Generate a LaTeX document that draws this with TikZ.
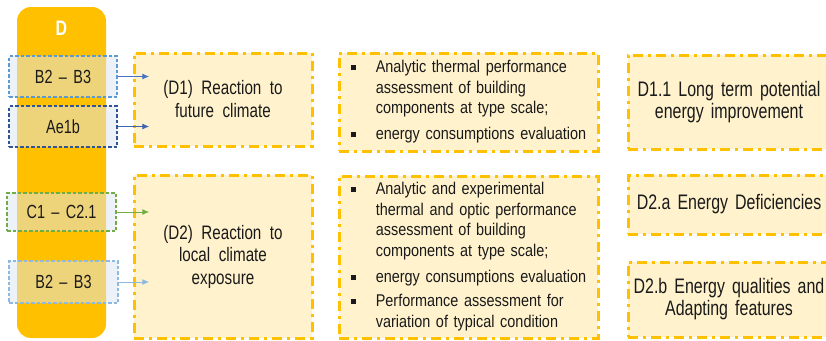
\documentclass[tikz,border=0pt]{standalone}
\usepackage{fontspec}
\setmainfont{Liberation Sans}[FakeStretch=0.85, WordSpace=1.4]
\newfontfamily\rfont{Liberation Sans}[Ligatures=TeX, FakeStretch=0.76, WordSpace=1.6]
\newfontfamily\dfont{Liberation Sans}[Ligatures=TeX, FakeStretch=0.78, WordSpace=2]
\usetikzlibrary{arrows.meta}
\definecolor{colD}{HTML}{FFC000}
\definecolor{boxfill}{HTML}{FFF2CC}
\definecolor{tagfill}{RGB}{220,230,242}
\definecolor{blueA}{HTML}{5B9BD5}
\definecolor{blueB}{HTML}{2F5597}
\definecolor{greenC}{HTML}{70AD47}
\definecolor{blueL}{HTML}{8DB8E2}
\definecolor{arrA}{HTML}{4472C4}
\definecolor{arrB}{HTML}{3C64B4}
\definecolor{txt}{HTML}{1A1A1A}
\newcommand{\fsz}[2]{\fontsize{#1}{#2}\selectfont}
\newcommand{\bul}{\rule[2.5pt]{5pt}{5pt}}
\begin{document}
\begin{tikzpicture}[x=1pt,y=-1pt,
  tag/.style={draw=#1, line width=2.5pt, dash pattern=on 3.5pt off 2pt, fill=tagfill, fill opacity=0.5, text opacity=1, text=txt, font=\rfont\fsz{19}{21}, inner sep=0pt},
  obox/.style={draw=colD, line width=3pt, dash pattern=on 10pt off 5pt on 3pt off 5pt, fill=boxfill, text=txt, inner sep=0pt, align=center},
  arr/.style={draw=#1, line width=1pt, -{Latex[length=7pt,width=6pt]}}
]
\useasboundingbox (0,0) rectangle (826,340);
\clip (0,0) rectangle (826,340);
\fill[white] (0,0) rectangle (826,340);

% column
\node[fill=colD, rounded corners=14pt, minimum width=89pt, minimum height=331pt, inner sep=0pt] (col) at (61.5,172.5) {};
\node[text=white, font=\rfont\fsz{21}{22}\bfseries] (dlab) at (61.5,28) {D};

% tags
\node[tag=blueA, minimum width=108pt, minimum height=41pt] (b1) at (63,76.5) {B2 – B3};
\node[tag=blueB, minimum width=108pt, minimum height=41pt] (ae) at (63,126.5) {Ae1b};
\node[tag=greenC, minimum width=109pt, minimum height=38pt] (c1) at (61.5,212) {C1 – C2.1};
\node[tag=blueL, minimum width=109pt, minimum height=42pt] (b2) at (63.5,282) {B2 – B3};

% middle-left boxes
\node[obox, minimum width=178pt, minimum height=93pt, font=\dfont\fsz{19.5}{23}] (d1) at (223,99.5) {(D1) Reaction to\\future climate};
\node[obox, minimum width=178pt, minimum height=163pt, font=\dfont\fsz{19.5}{22.5}] (d2) at (223,256.5) {(D2) Reaction to\\local climate\\exposure};

% bullet boxes
\node[obox, minimum width=259pt, minimum height=98pt] (m1) at (468.5,102) {\fsz{17}{20.5}\begin{tabular}{@{}p{25pt}@{}l@{}}
\bul & Analytic thermal performance\\
 & assessment of building\\
 & components at type scale;\\[5.5pt]
\bul & energy consumptions evaluation
\end{tabular}};
\node[obox, minimum width=259pt, minimum height=162pt] (m2) at (468.5,257) {\fsz{17}{20.5}\begin{tabular}{@{}p{25pt}@{}l@{}}
\bul & Analytic and experimental\\
 & thermal and optic performance\\
 & assessment of building\\
 & components at type scale;\\[6pt]
\bul & energy consumptions evaluation\\[3.5pt]
\bul & Performance assessment for\\
 & variation of typical condition
\end{tabular}};

% right boxes
\node[obox, minimum width=202pt, minimum height=94pt, font=\rfont\fsz{21}{21.5}] (r1) at (729,102) {D1.1 Long term potential\\energy improvement};
\node[obox, minimum width=202pt, minimum height=59pt, font=\rfont\fsz{21}{21.5}] (r2) at (729,204.5) {D2.a Energy Deficiencies};
\node[obox, minimum width=202pt, minimum height=75pt, font=\rfont\fsz{21}{22}] (r3) at (729,299.5) {D2.b Energy qualities and\\Adapting features};

% arrows
\draw[arr=arrA] (b1.east) -- ++(31,0);
\draw[arr=arrB] (ae.east) -- ++(31,0);
\draw[arr=greenC] (c1.east) -- ++(32,0);
\draw[arr=blueL] (b2.east) -- ++(30,0);
\end{tikzpicture}
\end{document}
